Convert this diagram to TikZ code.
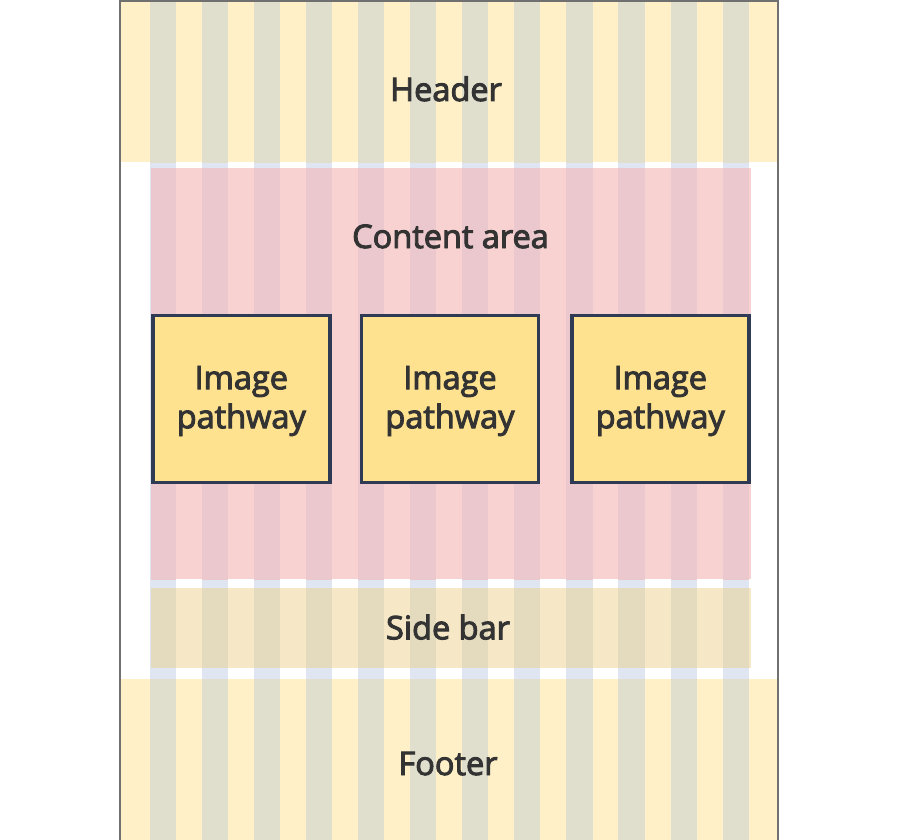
\documentclass[tikz,border=0pt]{standalone}
\usepackage{fontspec}
\setmainfont{Open Sans}[FakeBold=3]
\definecolor{framegray}{RGB}{112,112,112}
\definecolor{colwhite}{RGB}{223,230,242}
\definecolor{hdrbase}{RGB}{255,240,200}
\definecolor{hdrcol}{RGB}{224,223,205}
\definecolor{pinkbase}{RGB}{248,209,209}
\definecolor{pinkcol}{RGB}{235,200,205}
\definecolor{sidebase}{RGB}{246,232,198}
\definecolor{sidecol}{RGB}{228,219,190}
\definecolor{boxfill}{RGB}{255,226,143}
\definecolor{boxline}{RGB}{47,59,85}
\definecolor{txt}{RGB}{51,51,51}
\newcommand\colstrips[2]{%
  \begin{scope}
    \clip (#1.north west) rectangle (#1.south east);
    \foreach \i in {0,...,11}{\fill[#2] ({149.5+52.1*\i},0) rectangle ++(26.2,840);}
  \end{scope}}
\begin{document}
\begin{tikzpicture}[x=1pt,y=-1pt,
  region/.style={draw=none, inner sep=0pt, outer sep=0pt, anchor=north west},
  lbl/.style={text=txt, inner sep=0pt, anchor=base, font=\fontsize{32.5}{39}\selectfont},
  imgbox/.style={draw=boxline, line width=3.8pt, fill=boxfill, minimum width=177pt, minimum height=167pt,
     inner sep=0pt},
  boxtext/.style={text=txt, inner sep=0pt, align=center, font=\fontsize{32.5}{39}\selectfont}]
\useasboundingbox (0,0) rectangle (900,840);
\fill[white] (119,0) rectangle (777,840);
\foreach \i in {0,...,11}{\fill[colwhite] ({149.5+52.1*\i},0) rectangle ++(26.2,840);}
% regions
\node[region, fill=hdrbase, minimum width=658pt, minimum height=162.5pt] (header) at (119,0) {};
\colstrips{header}{hdrcol}
\node[region, fill=pinkbase, minimum width=600pt, minimum height=410.7pt] (content) at (151,168.3) {};
\colstrips{content}{pinkcol}
\node[region, fill=sidebase, minimum width=600pt, minimum height=79.7pt] (sidebar) at (151,588) {};
\colstrips{sidebar}{sidecol}
\node[region, fill=hdrbase, minimum width=658pt, minimum height=160.7pt] (footer) at (119,679.3) {};
\colstrips{footer}{hdrcol}
% boxes
\node[imgbox] (box1) at (241.3,399) {};
\node[imgbox] (box2) at (450,399) {};
\node[imgbox] (box3) at (660.3,399) {};
\node[boxtext] (box1text) at ([yshift=-2pt]box1.center) {Image\\pathway};
\node[boxtext] (box2text) at ([yshift=-2pt]box2.center) {Image\\pathway};
\node[boxtext] (box3text) at ([yshift=-2pt]box3.center) {Image\\pathway};
% labels
\node[lbl] (headerlabel) at (446,101) {Header};
\node[lbl] (contentlabel) at (450.5,248) {Content area};
\node[lbl] (sidebarlabel) at (448,639.3) {Side bar};
\node[lbl] (footerlabel) at (448,775) {Footer};
% frame
\node[draw=framegray, line width=2pt, inner sep=0pt, minimum width=658pt, minimum height=840pt, anchor=north west] (page) at (119,0) {};
\end{tikzpicture}
\end{document}
